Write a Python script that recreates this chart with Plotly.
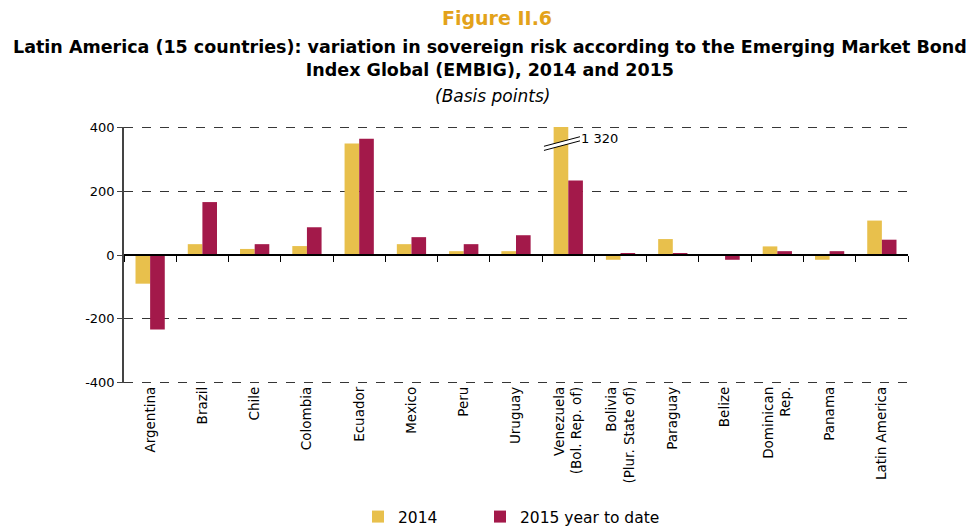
import plotly.graph_objects as go

categories = ["Argentina", "Brazil", "Chile", "Colombia", "Ecuador", "Mexico", "Peru",
              "Uruguay", "Venezuela<br>(Bol. Rep. of)", "Bolivia<br>(Plur. State of)",
              "Paraguay", "Belize", "Dominican<br>Rep.", "Panama", "Latin America"]
v2014 = [-90, 34, 19, 28, 350, 34, 12, 12, 1320, -15, 50, 3, 27, -15, 108]
v2015 = [-234, 166, 34, 87, 365, 56, 34, 62, 234, 5, 5, -15, 12, 12, 48]
ytickvals = [-400, -200, 0, 200, 400]
yticktext = ["-400", "-200", "0", "200", "400"]

GOLD = "#E8C04C"
MAROON = "#A3194A"
FONT = "DejaVu Sans, Liberation Sans, sans-serif"

L, R, T, B = 124, 70, 127, 146
W, H = 978, 529
ph = H - T - B
pw = W - L - R

def py(p):
    return (H - B - p) / ph

def px(p):
    return (p - L) / pw

fig = go.Figure()
fig.add_trace(go.Bar(x=categories, y=v2014, name="2014", marker_color=GOLD,
                     marker_line_width=0, legend="legend"))
fig.add_trace(go.Bar(x=categories, y=v2015, name="2015 year to date", marker_color=MAROON,
                     marker_line_width=0, legend="legend2"))
fig.add_trace(go.Scatter(x=categories, y=[None] * len(categories), xaxis="x2",
                         showlegend=False, hoverinfo="skip", mode="markers"))

# dashed grid lines at the range ends
for yv in (ytickvals[0], ytickvals[-1]):
    fig.add_shape(type="line", xref="paper", yref="y", x0=0, x1=1, y0=yv, y1=yv,
                  line=dict(color="#333333", width=1, dash="dash"), layer="below")

# break marks on the Venezuela 2014 bar (value beyond the axis range)
vi = 8
xa, xb = vi - 0.465, vi + 0.224
ylo, yhi = 328, 341
rise = 30
fig.add_shape(type="path", xref="x", yref="y",
              path=f"M {xa},{ylo} L {xb},{ylo + rise} L {xb},{yhi + rise} L {xa},{yhi} Z",
              fillcolor="white", line=dict(width=0), layer="above")
for yo in (ylo, yhi):
    fig.add_shape(type="line", xref="x", yref="y", x0=xa, y0=yo, x1=xb, y1=yo + rise,
                  line=dict(color="black", width=1), layer="above")
fig.add_annotation(x=xb, y=364, xref="x", yref="y", text=f"{v2014[vi]:,}".replace(",", " "),
                   showarrow=False, xanchor="left", yanchor="middle", xshift=-1,
                   font=dict(family=FONT, size=13, color="black"))

# titles
fig.add_annotation(x=px(497), y=py(18), xref="paper", yref="paper", text="<b>Figure II.6</b>",
                   showarrow=False, font=dict(family=FONT, size=19, color="#E3A21A"),
                   xanchor="center", yanchor="middle")
fig.add_annotation(x=px(490), y=py(58), xref="paper", yref="paper",
                   text="<b>Latin America (15 countries): variation in sovereign risk according to the Emerging Market Bond<br>Index Global (EMBIG), 2014 and 2015</b>",
                   showarrow=False, font=dict(family=FONT, size=17.5, color="black"),
                   xanchor="center", yanchor="middle", align="center")
fig.add_annotation(x=px(492), y=py(96), xref="paper", yref="paper", text="<i>(Basis points)</i>",
                   showarrow=False, font=dict(family=FONT, size=17, color="black"),
                   xanchor="center", yanchor="middle")

legend_common = dict(orientation="h", xanchor="left", y=py(517), yanchor="middle",
                     font=dict(family=FONT, size=15.5), itemwidth=30, bgcolor="rgba(0,0,0,0)")

fig.update_layout(
    width=W, height=H,
    margin=dict(l=L, r=R, t=T, b=B, autoexpand=False),
    plot_bgcolor="white", paper_bgcolor="white",
    barmode="group", bargap=0.44, bargroupgap=0,
    font=dict(family=FONT, size=13, color="black"),
    xaxis=dict(type="category", categoryorder="array", categoryarray=categories,
               range=[-0.5, len(categories) - 0.5], showline=False, ticks="",
               showgrid=False, tickangle=-90, tickfont=dict(size=13.5), automargin=False),
    xaxis2=dict(type="category", categoryorder="array", categoryarray=categories,
                range=[-0.5, len(categories) - 0.5], overlaying="x", anchor="free",
                position=0.5, side="bottom", showline=True, linecolor="black", linewidth=1.5,
                ticks="outside", tickson="boundaries", ticklen=6, tickwidth=1.2,
                tickcolor="black", showticklabels=False, showgrid=False, zeroline=False),
    yaxis=dict(range=[-401.5, 401.5], tickvals=ytickvals, ticktext=yticktext,
               showline=True, linecolor="#444444", linewidth=1.5, ticks="outside",
               ticklen=5, tickcolor="#444444", showgrid=True, gridcolor="#333333",
               griddash="dash", gridwidth=1, zeroline=False, tickfont=dict(size=13),
               automargin=False),
    legend=dict(x=px(358), **legend_common),
    legend2=dict(x=px(480), **legend_common),
    showlegend=True,
)

fig.write_html("out.html", config={"displayModeBar": False},
               post_script="document.body.style.margin='0';document.body.style.overflow='hidden';")
